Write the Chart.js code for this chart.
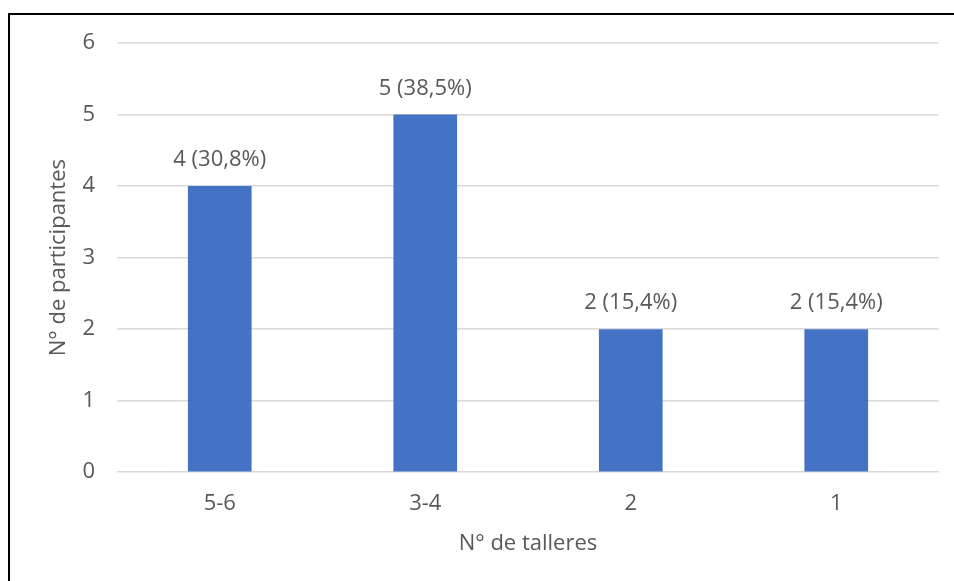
<!DOCTYPE html>
<html>
<head>
<meta charset="utf-8">
<script src="https://cdn.jsdelivr.net/npm/chart.js@4/dist/chart.umd.min.js"></script>
<style>
  html, body { margin: 0; padding: 0; background: #fff; }
  #wrap { position: relative; width: 954px; height: 581px; overflow: hidden; }
  #frame { position: absolute; left: 8px; top: 13px; width: 1000px; height: 700px;
           border-left: 2px solid #000; border-top: 2px solid #000; box-sizing: border-box; pointer-events: none; }
  canvas { position: absolute; left: 0; top: 0; }
</style>
</head>
<body>
<div id="wrap">
  <canvas id="c" width="954" height="581"></canvas>
  <div id="frame"></div>
</div>
<script>
// Workshops attended (grouped) and number of participants in each group
const categories = ['5-6', '3-4', '2', '1'];
const participants = [4, 5, 2, 2];
const yTicks = [0, 1, 2, 3, 4, 5, 6];

const total = participants.reduce((a, b) => a + b, 0);
const FONT = '"Open Sans", sans-serif';
const TEXT = '#595959';
const SIZE = 22;

// Value labels above each bar: "n (xx,x%)"
const barLabels = {
  id: 'barLabels',
  afterDatasetsDraw(chart) {
    const ctx = chart.ctx;
    const meta = chart.getDatasetMeta(0);
    ctx.save();
    ctx.font = SIZE + 'px ' + FONT;
    ctx.fillStyle = TEXT;
    ctx.textAlign = 'center';
    ctx.textBaseline = 'middle';
    meta.data.forEach((bar, i) => {
      const v = participants[i];
      const pct = (v / total * 100).toFixed(1).replace('.', ',');
      ctx.fillText(v + ' (' + pct + '%)', bar.x, bar.y - 26);
    });
    ctx.restore();
  }
};

new Chart(document.getElementById('c'), {
  type: 'bar',
  data: {
    labels: categories,
    datasets: [{
      data: participants,
      backgroundColor: '#4472C4',
      borderWidth: 0,
      categoryPercentage: 1,
      barPercentage: 0.31
    }]
  },
  options: {
    responsive: false,
    animation: false,
    events: [],
    layout: { padding: { left: 0, right: 15, top: 43, bottom: 0 } },
    plugins: { legend: { display: false }, tooltip: { enabled: false } },
    scales: {
      x: {
        grid: { display: false },
        border: { display: false },
        ticks: { color: TEXT, font: { family: FONT, size: SIZE }, padding: 10 },
        title: { display: true, text: 'N° de talleres', color: TEXT,
                 font: { family: FONT, size: SIZE }, padding: { top: 4, bottom: 24 } }
      },
      y: {
        min: 0, max: 6,
        afterBuildTicks(scale) { scale.ticks = yTicks.map(v => ({ value: v })); },
        afterFit(scale) { scale.width = 117; },
        grid: { color: '#d9d9d9', lineWidth: 1.5, drawTicks: false },
        border: { display: false },
        ticks: { color: TEXT, font: { family: FONT, size: SIZE }, padding: 22 },
        title: { display: true, text: 'N° de participantes', color: TEXT,
                 font: { family: FONT, size: SIZE }, padding: { top: 46, bottom: 0 } }
      }
    }
  },
  plugins: [barLabels]
});
</script>
</body>
</html>
